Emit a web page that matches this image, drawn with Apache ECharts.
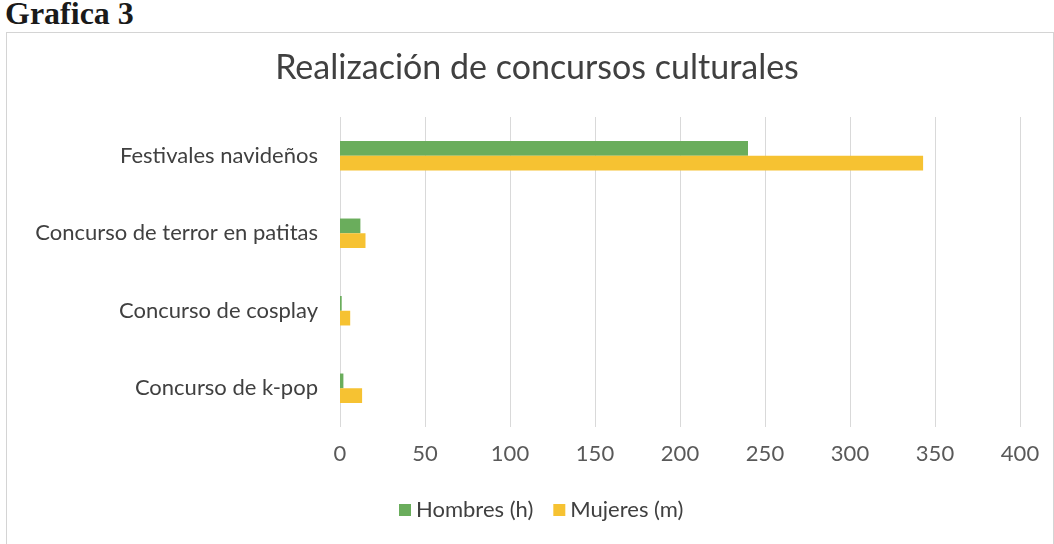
<!DOCTYPE html>
<html><head><meta charset="utf-8">
<script src="https://cdn.jsdelivr.net/npm/echarts@6/dist/echarts.min.js"></script>
<style>
html,body{margin:0;padding:0;background:#fff;}
#hdr{position:absolute;left:5px;top:-5px;font-family:"Liberation Serif",serif;font-weight:bold;font-size:32px;color:#1a1a1a;}
#box{position:absolute;left:6px;top:32px;width:1046px;height:520px;border:1px solid #d4d4d4;}
#c{position:absolute;left:0;top:0;width:1054px;height:544px;}
</style></head>
<body>
<div id="hdr">Grafica 3</div>
<div id="box"></div>
<div id="c"></div>
<script>
const categories = ["Festivales navideños","Concurso de terror en patitas","Concurso de cosplay","Concurso de k-pop"];
const hombres = [240, 12, 1, 2];
const mujeres = [343, 15, 6, 13];
const xTicks = [0,50,100,150,200,250,300,350,400];

const FONT = 'Lato, "Open Sans", sans-serif';
const chart = echarts.init(document.getElementById('c'), null, {renderer:'canvas'});
chart.setOption({
  backgroundColor:'transparent',
  animation:false,
  title:{text:'Realización de concursos culturales',left:532,top:46,textAlign:'center',
    textStyle:{fontFamily:FONT,fontWeight:'normal',fontSize:34,color:'#404040'}},
  legend:{top:494,left:394,itemWidth:12,itemHeight:12,itemGap:20,icon:'rect',
    textStyle:{fontFamily:FONT,fontSize:22,color:'#404040'},
    data:['Hombres (h)','Mujeres (m)']},
  grid:{left:340,right:34,top:117,bottom:117},
  xAxis:{type:'value',min:xTicks[0],max:xTicks[xTicks.length-1],interval:50,
    axisLine:{show:false},axisTick:{show:false},
    axisLabel:{margin:16,fontFamily:FONT,fontSize:22,color:'#595959'},
    splitLine:{lineStyle:{color:'#d9d9d9',width:1}}},
  yAxis:{type:'category',data:categories,inverse:true,
    axisLine:{show:false},axisTick:{show:false},
    axisLabel:{margin:22,fontFamily:FONT,fontSize:22,color:'#404040'}},
  series:[
    {name:'Hombres (h)',type:'bar',data:hombres,barGap:'0%',barCategoryGap:'62%',
     itemStyle:{color:'#6aad5c'}},
    {name:'Mujeres (m)',type:'bar',data:mujeres,
     itemStyle:{color:'#f6c232'}}
  ]
});
</script>
</body></html>
